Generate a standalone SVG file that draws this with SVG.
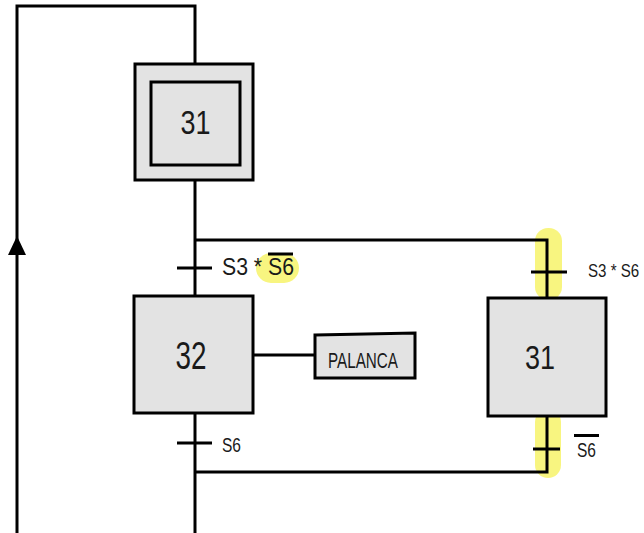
<svg xmlns="http://www.w3.org/2000/svg" width="644" height="533" viewBox="0 0 644 533">
<defs>
<style>
.ln{fill:none;stroke:#000;stroke-width:3}
.box{fill:#e3e3e3;stroke:#000;stroke-width:3}
.t{font-family:"Liberation Sans",Arial,sans-serif;fill:#1a1a1a}
.hl{fill:#f7f36a;opacity:0.85}
</style>
</defs>
<rect width="644" height="533" fill="#fff"/>
<g id="highlights">
<rect class="hl" x="256" y="253" width="43" height="30" rx="15"/>
<rect class="hl" x="535" y="228" width="27" height="72" rx="13"/>
<rect class="hl" x="535" y="409" width="26" height="69" rx="13"/>
</g>
<g id="connectors">
<path class="ln" d="M195,180 V297"/>
<path class="ln" d="M195,63 V6 H17 V533"/>
<path class="ln" d="M195,413 V533"/>
<path class="ln" d="M195,240 H547 V298"/>
<path class="ln" d="M195,472 H547 V416"/>
<path class="ln" d="M253,355 H315"/>
<path d="M17,236 L8,255 H26 Z" fill="#000"/>
</g>
<g id="step31-initial">
<rect class="box" x="135" y="64" width="118" height="116"/>
<rect class="box" x="151" y="82" width="89" height="83"/>
<text class="t" x="195.500" y="134" font-size="34" text-anchor="middle" textLength="30" lengthAdjust="spacingAndGlyphs">31</text>
</g>
<g id="t1">
<path class="ln" d="M177,268 H212"/>
<text class="t" x="222" y="275" font-size="24" textLength="72" lengthAdjust="spacingAndGlyphs">S3 * S6</text>
<path class="ln" d="M268,254 H293" stroke-width="2"/>
</g>
<g id="step32">
<rect class="box" x="134" y="296" width="119" height="117"/>
<text class="t" x="191" y="369" font-size="38" text-anchor="middle" textLength="31" lengthAdjust="spacingAndGlyphs">32</text>
</g>
<g id="action-palanca">
<path class="box" d="M315,335 L415,333 V378 H315 Z"/>
<text class="t" x="328" y="368" font-size="22" textLength="70" lengthAdjust="spacingAndGlyphs">PALANCA</text>
</g>
<g id="t2">
<path class="ln" d="M177,443 H212"/>
<text class="t" x="222" y="452" font-size="21" textLength="19" lengthAdjust="spacingAndGlyphs">S6</text>
</g>
<g id="step31">
<rect class="box" x="488" y="298" width="118" height="118"/>
<text class="t" x="540" y="369" font-size="34" text-anchor="middle" textLength="30" lengthAdjust="spacingAndGlyphs">31</text>
</g>
<g id="t3">
<path class="ln" d="M531,272 H567"/>
<text class="t" transform="translate(588,277) scale(0.84,1)" font-size="18">S3 * S6</text>
</g>
<g id="t4">
<path class="ln" d="M533,449 H560"/>
<text class="t" x="577" y="457" font-size="21" textLength="19" lengthAdjust="spacingAndGlyphs">S6</text>
<path class="ln" d="M574,435.500 H599" stroke-width="2"/>
</g>
</svg>
